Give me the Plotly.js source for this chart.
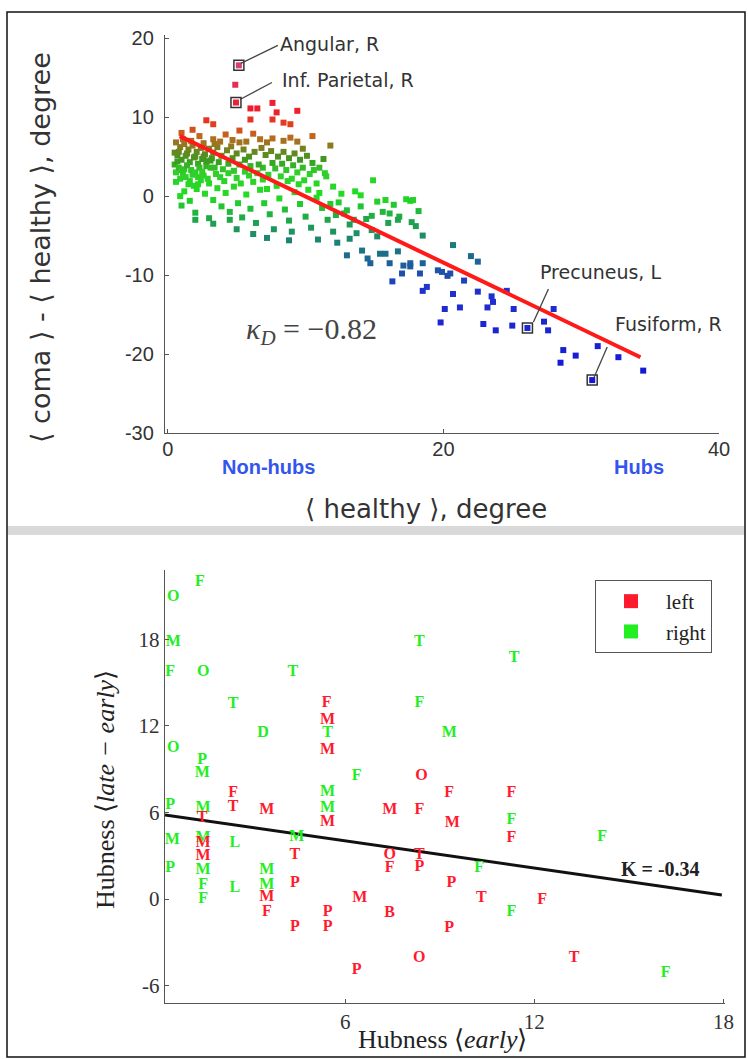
<!DOCTYPE html>
<html><head><meta charset="utf-8">
<script src="https://cdn.plot.ly/plotly-3.0.1.min.js"></script>
<style>html,body{margin:0;padding:0;background:#fff}#chart{width:748px;height:1059px}</style>
</head><body><div id="chart"></div><script>
// ---------- Top panel: <healthy> degree vs <coma>-<healthy> ----------
const topX = [5.16,4.9,4.95,6.0,6.5,7.6,7.9,9.4,6.0,7.6,2.8,3.3,8.4,8.9,1.8,5.2,10.5,
3.3,3.8,4.7,5.2,5.7,6.7,7.2,7.6,8.4,8.9,9.4,11.8,2.3,1.0,4.2,6.2,9.8,
0.6,0.9,1.2,1.5,1.8,2.1,2.4,2.7,3.0,3.3,3.6,3.9,4.3,4.6,5.0,5.5,5.9,6.3,6.8,7.1,7.5,8.0,8.4,8.8,9.2,9.6,10.1,10.5,11.0,11.3,
0.7,1.0,1.3,1.6,1.9,2.2,2.5,2.8,3.1,3.4,3.7,4.0,4.4,4.8,5.2,5.6,6.0,6.5,6.9,7.3,7.8,8.2,8.6,9.0,9.4,9.9,10.3,10.8,11.5,12.0,
0.6,0.9,1.2,1.5,1.8,2.1,2.4,2.7,3.0,3.3,3.6,3.9,4.2,4.5,4.8,5.1,5.4,5.7,6.0,6.4,6.7,7.0,7.4,7.7,8.1,8.5,8.8,9.2,9.6,10.0,10.4,10.8,11.2,11.6,12.0,12.4,12.8,13.2,13.6,14.0,14.4,14.8,15.2,15.6,16.0,16.4,16.8,17.3,17.7,18.2,1.0,2.0,3.0,6.2,7.2,8.8,5.0,
0.5,0.8,1.1,1.4,1.7,2.0,2.3,2.6,2.9,0.6,1.2,2.2,0.8,1.4,2.0,2.6,3.2,1.1,1.7,2.6,3.4,0.9,1.6,
0.5,0.7,1.0,1.3,1.6,1.9,2.2,2.5,2.8,3.1,3.5,3.8,4.1,4.4,4.7,5.0,5.3,5.6,5.9,6.2,6.6,6.9,7.2,7.6,7.9,8.3,8.7,9.1,9.5,9.8,10.2,10.6,11.0,11.4,11.8,12.2,12.6,13.0,13.5,2.0,3.3,4.5,9.0,10.9,12.3,
13.0,14.1,14.5,14.7,15.4,15.8,16.7,16.1,16.3,17.0,17.6,18.5,18.3,19.6,20.3,20.7,22.0,22.5,18.8,13.2,13.7,15.2,18.5,18.0,15.8,17.6,14.8,16.1,16.7,14.9,14.0,17.8,
17.1,17.6,19.9,20.5,21.5,18.5,20.7,22.5,23.5,24.6,23.6,20.1,21.2,23.2,25.1,28.0,19.8,22.9,23.8,25.0,26.1,27.3,27.6,28.7,29.6,28.5,31.2,32.7,34.5,30.8];
const topY = [16.56,14.1,11.85,11.1,11.1,11.8,10.6,10.8,9.7,9.7,9.6,9.1,9.3,9.1,8.4,8.3,7.6,
7.2,6.9,7.1,6.8,6.9,7.2,6.8,7.3,7.0,7.4,6.9,6.4,7.6,8.0,7.8,7.9,6.0,
6.8,6.2,6.6,5.9,6.4,5.6,6.1,5.3,6.0,5.5,6.2,5.1,5.8,6.3,5.4,5.9,5.0,5.6,6.1,5.2,5.7,5.0,5.6,4.8,5.4,4.6,5.1,4.2,3.6,4.7,
5.2,4.6,5.1,4.3,4.9,4.1,4.7,3.8,4.5,3.6,4.3,3.4,4.1,3.2,4.0,3.1,3.8,2.9,3.6,2.7,3.5,2.5,3.3,2.2,3.0,2.0,2.8,1.6,2.5,1.2,
3.0,2.2,3.4,1.5,2.7,0.9,2.0,0.3,1.6,-0.5,1.0,-1.3,0.4,-2.0,1.2,-0.9,-2.7,0.2,-1.6,-3.4,0.8,-0.9,-2.3,-4.2,-0.3,-1.7,-3.1,0.5,-1.0,-2.6,-4.0,-0.2,-1.5,-3.0,-4.5,-0.8,-2.2,-3.6,0.6,-1.3,-2.9,-4.3,-0.7,-2.0,-3.4,-1.1,-2.6,-0.4,-3.3,-1.9,-1.2,-2.1,-2.8,-4.8,-5.3,-5.6,-4.2,
4.0,3.6,2.9,3.9,3.3,3.0,3.6,2.6,2.2,1.8,0.6,1.5,5.6,5.4,5.0,5.0,4.8,7.2,7.0,6.7,6.6,0.0,-0.6,
5.5,4.4,3.3,2.4,1.9,1.3,2.4,3.1,4.4,3.6,2.8,2.4,1.9,2.9,4.8,2.3,1.6,4.6,2.6,1.8,4.0,2.1,0.9,4.2,1.3,4.1,1.9,3.9,1.5,3.6,0.8,3.3,0.4,2.9,-1.0,-2.4,0.3,-1.8,-3.0,-3.0,-3.5,-3.0,-4.5,-5.5,-5.9,
-7.5,-6.9,-7.9,-8.5,-7.3,-7.3,-7.0,-8.5,-10.8,-9.8,-8.5,-8.5,-9.8,-9.4,-10.1,-6.2,-7.6,-8.3,-11.5,-5.4,-4.7,-5.1,-5.0,-3.8,-0.5,-0.6,-2.5,-2.2,-3.0,2.0,0.1,-0.5,
-8.8,-8.9,-9.6,-9.8,-10.7,-12.0,-12.4,-12.1,-12.7,-12.0,-13.4,-14.3,-14.1,-14.1,-14.3,-14.3,-16.0,-16.2,-17.0,-16.4,-16.7,-15.9,-17.0,-19.5,-20.2,-21.1,-19.0,-20.4,-22.1,-23.3];
// regression line
const topFitX = [0.87, 34.3];
const topFitY = [7.6, -20.4];
// labelled regions
const regionNames = ["Angular, R","Inf. Parietal, R","Precuneus, L","Fusiform, R"];
const regionX = [5.16, 4.95, 26.1, 30.8];
const regionY = [16.56, 11.85, -16.7, -23.3];
const topXTicks = [0,20,40];
const topYTicks = [-30,-20,-10,0,10,20];
const kappaText = "<i>\u03BA</i><sub><i>D</i></sub> = \u22120.82";

// ---------- Bottom panel: Hubness early vs late-early ----------
const rightX = [1.39,0.54,0.54,8.35,0.44,1.49,4.34,11.36,2.44,8.35,3.39,5.44,9.30,0.54,1.46,1.46,6.36,5.44,5.44,0.44,1.49,11.27,14.15,0.51,1.49,4.46,2.5,2.5,10.25,0.44,1.49,1.49,1.49,3.51,3.51,11.27,16.17];
const rightY = [22.0,20.9,17.8,17.8,15.7,15.7,15.7,16.7,13.5,13.6,11.5,11.5,11.5,10.5,9.65,8.75,8.5,7.4,6.3,6.5,6.3,5.5,4.3,4.1,4.2,4.3,3.9,0.75,2.15,2.15,2.0,1.0,0.0,2.0,1.0,-0.9,-5.1];
const rightLbl = ["F","O","M","T","F","O","T","T","T","F","D","T","M","O","P","M","F","M","M","P","M","F","F","M","M","M","L","L","F","P","M","F","F","M","M","F","F"];
const leftX = [5.41,5.44,5.44,8.42,9.30,11.27,2.44,2.44,3.51,7.41,8.35,1.46,9.40,11.27,5.44,1.49,1.49,4.40,7.41,7.41,8.35,8.35,4.40,9.37,3.51,3.51,6.46,10.32,12.25,7.41,5.44,5.44,4.40,9.30,8.35,6.36,13.26];
const leftY = [13.6,12.4,10.35,8.5,7.35,7.35,7.35,6.4,6.2,6.2,6.2,5.6,5.3,4.2,5.35,3.9,3.0,3.05,3.05,2.15,3.05,2.2,1.1,1.1,0.15,-0.9,0.05,0.05,-0.05,-0.95,-0.9,-1.95,-1.95,-2.0,-4.1,-4.9,-4.1];
const leftLbl = ["F","M","M","O","F","F","F","T","M","M","F","T","M","F","M","M","M","T","O","F","T","P","P","P","M","F","M","T","F","B","P","P","P","P","O","P","T"];
const botFitX = [0.28, 17.95];
const botFitY = [5.83, 0.28];
const botXTicks = [6,12,18];
const botYTicks = [-6,0,6,12,18];
const kText = "K = -0.34";
const seriesNames = ["left","right"];

// ---------- figure ----------
const W = 748, H = 1059;
const px = v => v / W, py = v => 1 - v / H;
const sans = "DejaVu Sans", arial = "Liberation Sans", serif = "Liberation Serif";
const RED = "#ff1a2e", GREEN = "#22ee22";

const traces = [
  {x: topX, y: topY, type: "scatter", mode: "markers", xaxis: "x", yaxis: "y", showlegend: false, hoverinfo: "skip",
   marker: {symbol: "square", size: 6, color: topY, cmin: -24, cmax: 17,
     colorscale: [[0,"#1414d6"],[0.293,"#2030d0"],[0.366,"#1e5a9e"],[0.439,"#1b7f78"],[0.512,"#1fa64a"],
       [0.585,"#22dc22"],[0.659,"#30d02a"],[0.695,"#3a9a20"],[0.732,"#7a8020"],[0.768,"#c0681e"],
       [0.805,"#e0401e"],[0.854,"#ee1c2c"],[1,"#d8407a"]]}},
  {x: topFitX, y: topFitY, type: "scatter", mode: "lines", xaxis: "x", yaxis: "y", showlegend: false,
   line: {color: "#ff1a1a", width: 4}},
  {x: regionX, y: regionY, type: "scatter", mode: "markers", xaxis: "x", yaxis: "y", showlegend: false,
   marker: {symbol: "square-open", size: 10, color: "#333", line: {width: 1.5}}},
  {x: botFitX, y: botFitY, type: "scatter", mode: "lines", xaxis: "x2", yaxis: "y2", showlegend: false,
   line: {color: "#111", width: 3}},
  {x: rightX, y: rightY, text: rightLbl, type: "scatter", mode: "text", xaxis: "x2", yaxis: "y2", showlegend: false,
   textfont: {family: serif, size: 16, color: GREEN, weight: "bold"}},
  {x: leftX, y: leftY, text: leftLbl, type: "scatter", mode: "text", xaxis: "x2", yaxis: "y2", showlegend: false,
   textfont: {family: serif, size: 16, color: RED, weight: "bold"}},
  {x: [null], y: [null], type: "scatter", mode: "markers", name: seriesNames[0], xaxis: "x2", yaxis: "y2",
   marker: {symbol: "square", size: 14, color: RED}},
  {x: [null], y: [null], type: "scatter", mode: "markers", name: seriesNames[1], xaxis: "x2", yaxis: "y2",
   marker: {symbol: "square", size: 14, color: GREEN}}
];

const axisCommon = {showline: true, linecolor: "#555", linewidth: 1.2, ticks: "inside", ticklen: 4,
  tickcolor: "#555", showgrid: false, zeroline: false, mirror: false, fixedrange: true};

const ann = [];
const labShift = [[39,21],[44,23],[11,56],[21,56]];
const leadLines = [[2,2,39,20],[4,3,36,20],[6,6,21,39],[2,3,15,33]];
const shapes = [];
regionNames.forEach((n,i) => {
  ann.push({x: regionX[i], y: regionY[i], xref: "x", yref: "y", text: n, showarrow: false,
    xanchor: "left", yanchor: "middle", xshift: labShift[i][0], yshift: labShift[i][1],
    font: {family: sans, size: 19, color: "#333"}});
  shapes.push({type: "line", xref: "x", yref: "y", xsizemode: "pixel", ysizemode: "pixel",
    xanchor: regionX[i], yanchor: regionY[i], x0: leadLines[i][0], y0: leadLines[i][1],
    x1: leadLines[i][2], y1: leadLines[i][3], line: {color: "#444", width: 1.3}});
});
ann.push({x: 10.4, y: -17.1, xref: "x", yref: "y", text: kappaText, showarrow: false, xanchor: "center", yanchor: "middle",
  font: {family: serif, size: 30, color: "#444"}});
ann.push({x: 7.3, y: -0.085, xref: "x", yref: "y domain", text: "<b>Non-hubs</b>", showarrow: false,
  xanchor: "center", yanchor: "middle", font: {family: arial, size: 20, color: "#3355ee"}});
ann.push({x: 34.2, y: -0.085, xref: "x", yref: "y domain", text: "<b>Hubs</b>", showarrow: false,
  xanchor: "center", yanchor: "middle", font: {family: arial, size: 20, color: "#3355ee"}});
ann.push({x: px(426), y: py(509), xref: "paper", yref: "paper", text: "\u27E8 healthy \u27E9, degree", showarrow: false,
  xanchor: "center", yanchor: "middle", font: {family: sans, size: 26, color: "#333"}});
ann.push({x: px(40), y: py(248), xref: "paper", yref: "paper", text: "\u27E8 coma \u27E9 - \u27E8 healthy \u27E9, degree",
  xanchor: "center", yanchor: "middle", textangle: -90, showarrow: false, font: {family: sans, size: 27, color: "#333"}});
ann.push({x: 16.0, y: 2.1, xref: "x2", yref: "y2", text: "<b>" + kText + "</b>", showarrow: false,
  xanchor: "center", yanchor: "middle", font: {family: serif, size: 20, color: "#222"}});
ann.push({x: px(442), y: py(1039), xref: "paper", yref: "paper", text: "Hubness \u27E8<i>early</i>\u27E9", showarrow: false,
  xanchor: "center", yanchor: "middle", font: {family: serif, size: 26, color: "#222"}});
ann.push({x: px(105), y: py(790), xref: "paper", yref: "paper", text: "Hubness \u27E8<i>late \u2212 early</i>\u27E9",
  xanchor: "center", yanchor: "middle", textangle: -90, showarrow: false, font: {family: serif, size: 26, color: "#222"}});

// figure frame and panel separator
shapes.push({type: "rect", xref: "paper", yref: "paper", x0: px(7), x1: px(745), y0: py(1057), y1: py(12),
  line: {color: "#111", width: 1.5}, fillcolor: "rgba(0,0,0,0)", layer: "below"});
shapes.push({type: "rect", xref: "paper", yref: "paper", x0: px(8), x1: px(744), y0: py(535), y1: py(526),
  line: {width: 0}, fillcolor: "#d9d9d9", layer: "below"});

const layout = {
  width: W, height: H, margin: {l: 0, r: 0, t: 0, b: 0}, paper_bgcolor: "#fff", plot_bgcolor: "rgba(0,0,0,0)",
  showlegend: true,
  legend: {x: px(595), y: py(580), xanchor: "left", yanchor: "top", bgcolor: "#fff", bordercolor: "#555", borderwidth: 1,
    font: {family: serif, size: 21, color: "#222"}, itemwidth: 60, tracegroupgap: 0},
  xaxis: Object.assign({}, axisCommon, {domain: [px(165), px(719)], range: [-0.2, 40], anchor: "y",
    tickvals: topXTicks, ticktext: topXTicks.map(String), ticklabelstandoff: -2, tickfont: {family: arial, size: 20, color: "#333"}}),
  yaxis: Object.assign({}, axisCommon, {domain: [py(433), py(35)], range: [-30, 20.4], anchor: "x",
    tickvals: topYTicks, ticktext: topYTicks.map(String), ticklabelstandoff: 6, tickfont: {family: arial, size: 20, color: "#333"}}),
  xaxis2: Object.assign({}, axisCommon, {domain: [px(165), px(725)], range: [0.28, 18.05], anchor: "y2",
    tickvals: botXTicks, ticktext: botXTicks.map(String), tickfont: {family: serif, size: 21, color: "#333"}}),
  yaxis2: Object.assign({}, axisCommon, {domain: [py(1003), py(570)], range: [-7.2, 22.8], anchor: "x2",
    tickvals: botYTicks, ticktext: botYTicks.map(String), tickfont: {family: serif, size: 21, color: "#333"}}),
  annotations: ann, shapes: shapes
};

Plotly.newPlot("chart", traces, layout, {staticPlot: true, displayModeBar: false});
</script></body></html>
